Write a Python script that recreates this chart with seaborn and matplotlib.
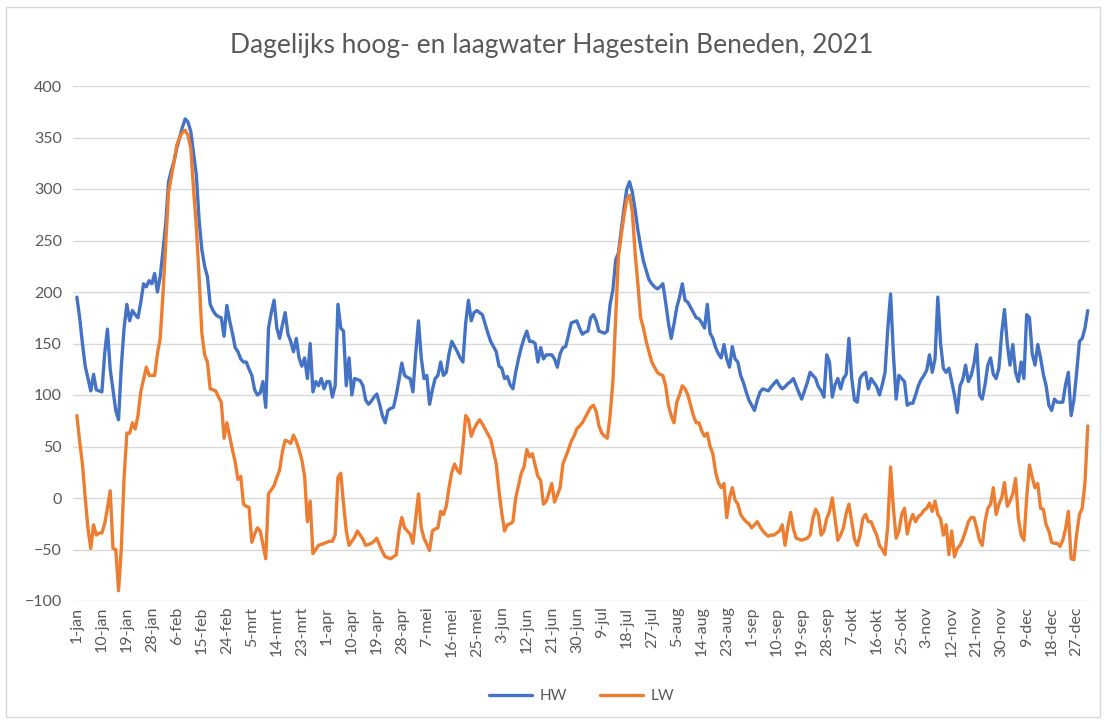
import numpy as np
import pandas as pd
import matplotlib
matplotlib.use("Agg")
import matplotlib.pyplot as plt
import seaborn as sns
from matplotlib.patches import Rectangle

# ─── Data (one value per day, cm) ─────────────────────────────────────
MONTHS = ["jan", "feb", "mrt", "apr", "mei", "jun",
          "jul", "aug", "sep", "okt", "nov", "dec"]

hw_jan = [195, 175, 150, 128, 116, 104, 120, 105, 104, 103, 140, 164, 125, 105, 85, 76,
          128, 165, 188, 172, 182, 178, 175, 190, 208, 205, 211, 208, 218, 200, 215]
hw_feb = [240, 267, 307, 318, 327, 340, 350, 360, 368, 365, 356, 335, 314, 270, 241, 225,
          215, 188, 182, 178, 176, 175, 157, 187, 172, 160, 146, 142]
hw_mrt = [135, 132, 132, 125, 119, 105, 100, 102, 113, 88, 165, 180, 192, 165, 155, 168,
          180, 159, 152, 142, 155, 136, 128, 136, 116, 150, 103, 113, 109, 116, 106]
hw_apr = [113, 113, 98, 109, 188, 165, 162, 109, 136, 100, 116, 115, 114, 109, 95, 91,
          94, 98, 101, 91, 80, 73, 85, 87, 88, 100, 115, 131, 119, 117]
hw_mei = [116, 103, 140, 172, 136, 116, 119, 91, 105, 116, 119, 132, 119, 122, 140, 152,
          147, 142, 136, 132, 170, 192, 172, 180, 182, 180, 178, 169, 160, 152, 147]
hw_jun = [142, 128, 126, 116, 118, 110, 106, 122, 135, 146, 155, 162, 152, 152, 150, 132,
          146, 135, 139, 139, 139, 135, 127, 140, 146, 147, 158, 170, 171, 172]
hw_jul = [165, 159, 161, 162, 175, 178, 172, 162, 161, 160, 162, 188, 202, 231, 238, 260,
          281, 300, 307, 297, 280, 260, 244, 230, 221, 212, 208, 205, 203, 205, 208]
hw_aug = [190, 170, 155, 169, 185, 195, 208, 192, 190, 185, 180, 175, 174, 170, 165, 188,
          160, 155, 146, 140, 136, 149, 135, 127, 147, 135, 132, 119, 112, 103, 95]
hw_sep = [90, 85, 95, 103, 106, 105, 104, 108, 111, 114, 109, 106, 108, 111, 113, 116,
          109, 102, 96, 104, 112, 122, 119, 116, 108, 104, 98, 139, 132, 98]
hw_okt = [110, 116, 106, 116, 120, 155, 116, 95, 93, 116, 120, 122, 106, 116, 112, 108,
          100, 110, 122, 165, 198, 140, 96, 119, 116, 113, 90, 92, 92, 100, 109]
hw_nov = [115, 119, 124, 139, 122, 135, 195, 150, 126, 122, 126, 113, 100, 83, 109, 115,
          129, 113, 119, 130, 149, 100, 96, 110, 129, 136, 120, 116, 126, 160]
hw_dec = [183, 150, 129, 149, 122, 113, 132, 116, 178, 175, 140, 129, 149, 136, 120, 109,
          90, 85, 96, 93, 93, 93, 110, 122, 80, 95, 122, 152, 155, 165, 182]

lw_jan = [80, 55, 33, 0, -30, -49, -26, -36, -34, -34, -25, -10, 7, -49, -50, -90,
          -49, 20, 63, 63, 73, 67, 80, 103, 115, 127, 119, 119, 119, 140, 155]
lw_feb = [198, 248, 297, 312, 327, 343, 350, 355, 357, 352, 340, 300, 264, 215, 160, 139,
          132, 106, 105, 104, 98, 93, 58, 73, 60, 47, 35, 18]
lw_mrt = [21, -6, -8, -9, -43, -35, -29, -32, -45, -59, 4, 8, 12, 20, 27, 45,
          56, 55, 53, 61, 55, 47, 37, 21, -23, -3, -54, -50, -46, -45, -44]
lw_apr = [-43, -42, -42, -36, 20, 24, -5, -32, -46, -42, -38, -32, -36, -40, -46, -45,
          -44, -42, -39, -46, -52, -57, -58, -59, -57, -55, -32, -19, -29, -32]
lw_mei = [-35, -44, -20, 4, -29, -39, -45, -51, -32, -30, -29, -13, -16, -8, 10, 25,
          33, 27, 24, 50, 80, 76, 60, 67, 72, 76, 72, 67, 62, 57, 45]
lw_jun = [33, 7, -15, -32, -26, -25, -23, 0, 12, 24, 30, 47, 40, 43, 32, 21,
          17, -6, -3, 5, 14, -4, 3, 10, 33, 40, 47, 55, 60, 67]
lw_jul = [70, 73, 78, 83, 88, 90, 84, 70, 63, 60, 58, 80, 113, 175, 235, 255,
          274, 290, 294, 278, 238, 208, 175, 165, 152, 142, 132, 127, 122, 120, 119]
lw_aug = [109, 90, 80, 73, 93, 100, 109, 106, 100, 90, 80, 73, 73, 65, 60, 63,
          50, 43, 25, 15, 10, 14, -19, 0, 10, -2, -6, -16, -20, -23, -25]
lw_sep = [-29, -26, -23, -28, -32, -35, -37, -36, -36, -34, -32, -26, -46, -28, -14, -30,
          -39, -40, -41, -40, -39, -36, -20, -11, -16, -36, -32, -20, -13, 0]
lw_okt = [-20, -41, -36, -29, -15, -6, -23, -40, -46, -36, -20, -16, -23, -23, -30, -36,
          -46, -50, -55, -26, 30, -10, -39, -32, -16, -10, -35, -23, -16, -23, -18]
lw_nov = [-16, -12, -10, -5, -13, -3, -16, -20, -36, -26, -55, -32, -57, -49, -46, -40,
          -32, -23, -19, -19, -29, -41, -46, -23, -10, -6, 10, -16, -6, 0]
lw_dec = [15, -8, -3, 4, 19, -20, -36, -41, 0, 32, 20, 10, 14, -10, -11, -26,
          -32, -43, -44, -44, -47, -41, -30, -13, -59, -60, -35, -16, -10, 15, 70]

hw = (hw_jan + hw_feb + hw_mrt + hw_apr + hw_mei + hw_jun
      + hw_jul + hw_aug + hw_sep + hw_okt + hw_nov + hw_dec)
lw = (lw_jan + lw_feb + lw_mrt + lw_apr + lw_mei + lw_jun
      + lw_jul + lw_aug + lw_sep + lw_okt + lw_nov + lw_dec)

dates = pd.date_range("2021-01-01", "2021-12-31", freq="D")
days = np.arange(len(dates))

df = pd.DataFrame({
    "dag": np.concatenate([days, days]),
    "waterstand": hw + lw,
    "reeks": ["HW"] * len(hw) + ["LW"] * len(lw),
})

# ─── Plot ─────────────────────────────────
sns.set_theme(style="white")
plt.rcParams["font.family"] = ["Lato", "DejaVu Sans"]

fig = plt.figure(figsize=(11.04, 7.23), dpi=100)
ax = fig.add_axes([73 / 1104, 1 - 601 / 723, (1090 - 73) / 1104, (601 - 86) / 723])

sns.lineplot(data=df, x="dag", y="waterstand", hue="reeks",
             palette={"HW": "#4472C4", "LW": "#ED7D31"},
             linewidth=2.4, ax=ax)

ax.set_xlim(-1.4, 364.8)
ax.set_ylim(-100, 400)
ax.set_yticks(np.arange(-100, 401, 50))
ax.yaxis.grid(True, color="#d9d9d9", linewidth=1)
ax.set_axisbelow(True)
for s in ax.spines.values():
    s.set_visible(False)

tick_days = days[::9]
ax.set_xticks(tick_days)
ax.set_xticklabels([f"{dates[d].day}-{MONTHS[dates[d].month - 1]}" for d in tick_days],
                   rotation=90)
ax.tick_params(axis="x", labelsize=11.5, colors="#595959", pad=4, length=0)
ax.tick_params(axis="y", labelsize=11.5, colors="#595959", pad=8, length=0)
ax.set_xlabel("")
ax.set_ylabel("")

leg = ax.legend(loc="upper center", bbox_to_anchor=(0.5, -0.145), ncol=2,
                frameon=False, fontsize=11, handlelength=2.8, columnspacing=2.2,
                handletextpad=0.5)
for t in leg.get_texts():
    t.set_color("#595959")

fig.text(0.5, 1 - 45 / 723, "Dagelijks hoog- en laagwater Hagestein Beneden, 2021",
         ha="center", va="center", fontsize=19, color="#595959")

fig.patches.append(Rectangle((6 / 1104, 6 / 723), 1094 / 1104, 710 / 723,
                             transform=fig.transFigure, fill=False,
                             edgecolor="#d9d9d9", linewidth=1))

fig.savefig("out.png", dpi=100, facecolor="white")
